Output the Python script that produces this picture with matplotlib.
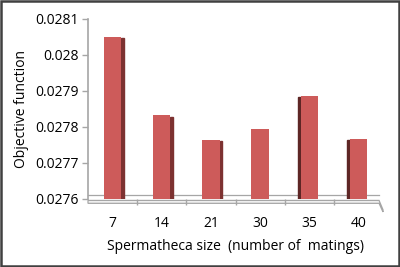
import numpy as np
import matplotlib.pyplot as plt
from matplotlib.patches import Polygon, Rectangle

plt.rcParams['font.family'] = ['Open Sans', 'DejaVu Sans']

### Data
sizes = ['7', '14', '21', '30', '35', '40']
objective = [0.028050, 0.027833, 0.027764, 0.027794, 0.027886, 0.027767]
# which side the shaded depth face shows on (perspective)
side = [1, 1, 1, 0, -1, -1]

### Plot
fig = plt.figure(figsize=(4, 2.67), dpi=100)
ax = fig.add_axes([0.22, 0.2547, 0.7375, 0.6743])

x = np.arange(len(sizes))
w = 0.35
d = 0.06
ymin, ymax = 0.0276, 0.0281

# floor
floor = Polygon([(-0.5, ymin - 0.000004), (5.42, ymin - 0.000004),
                 (5.5, ymin - 0.00003), (5.5, ymin - 0.000036),
                 (5.42, ymin - 0.000012), (-0.5, ymin - 0.000012)],
                closed=True, facecolor='#f4f4f4', edgecolor='#a6a6a6',
                lw=0.9, clip_on=False, zorder=1)
ax.add_patch(floor)
ax.plot([-0.5, 5.42], [ymin + 0.000012, ymin + 0.000012], color='#a6a6a6',
        lw=0.9, clip_on=False, zorder=1)

for i, v in enumerate(objective):
    ax.bar(x[i], v - ymin, bottom=ymin, width=w, color='#cd5b5a',
           edgecolor='none', zorder=3)
    if side[i] == 1:
        ax.add_patch(Rectangle((x[i] + w / 2, ymin), d, v - ymin - 0.000004,
                               color='#7d3231', zorder=2))
    elif side[i] == -1:
        ax.add_patch(Rectangle((x[i] - w / 2 - d, ymin), d, v - ymin - 0.000004,
                               color='#5e2625', zorder=2))

ax.set_xlim(-0.5, 5.5)
ax.set_ylim(ymin, ymax)
ax.set_yticks(np.arange(0.0276, 0.02811, 0.0001))
ax.set_yticklabels(['0.0276', '0.0277', '0.0278', '0.0279', '0.028', '0.0281'])
ax.set_xticks(x)
ax.set_xticklabels(sizes)
ax.set_xticks(np.arange(0.5, 5.5, 1.0), minor=True)

for s in ['top', 'right', 'bottom']:
    ax.spines[s].set_visible(False)
ax.spines['left'].set_color('#a6a6a6')
ax.spines['left'].set_linewidth(1.2)

ax.tick_params(axis='y', colors='#a6a6a6', length=4, width=1, labelsize=10,
               labelcolor='black', pad=3)
ax.tick_params(axis='x', which='major', length=0, labelsize=10, pad=12)
ax.tick_params(axis='x', which='minor', length=4, width=1, colors='#a6a6a6')
for t in ax.xaxis.get_minorticklines():
    t.set_ydata([-0.00003])

ax.set_ylabel('Objective function', fontsize=10, labelpad=4)
ax.set_xlabel('Spermatheca size  (number of  matings)', fontsize=10, labelpad=6)

# outer frame
fig.patches.append(Rectangle((0.003, 0.004), 0.994, 0.992, transform=fig.transFigure,
                             fill=False, edgecolor='#404040', lw=1.8))

plt.savefig('out.png', dpi=100)
plt.close(fig)
